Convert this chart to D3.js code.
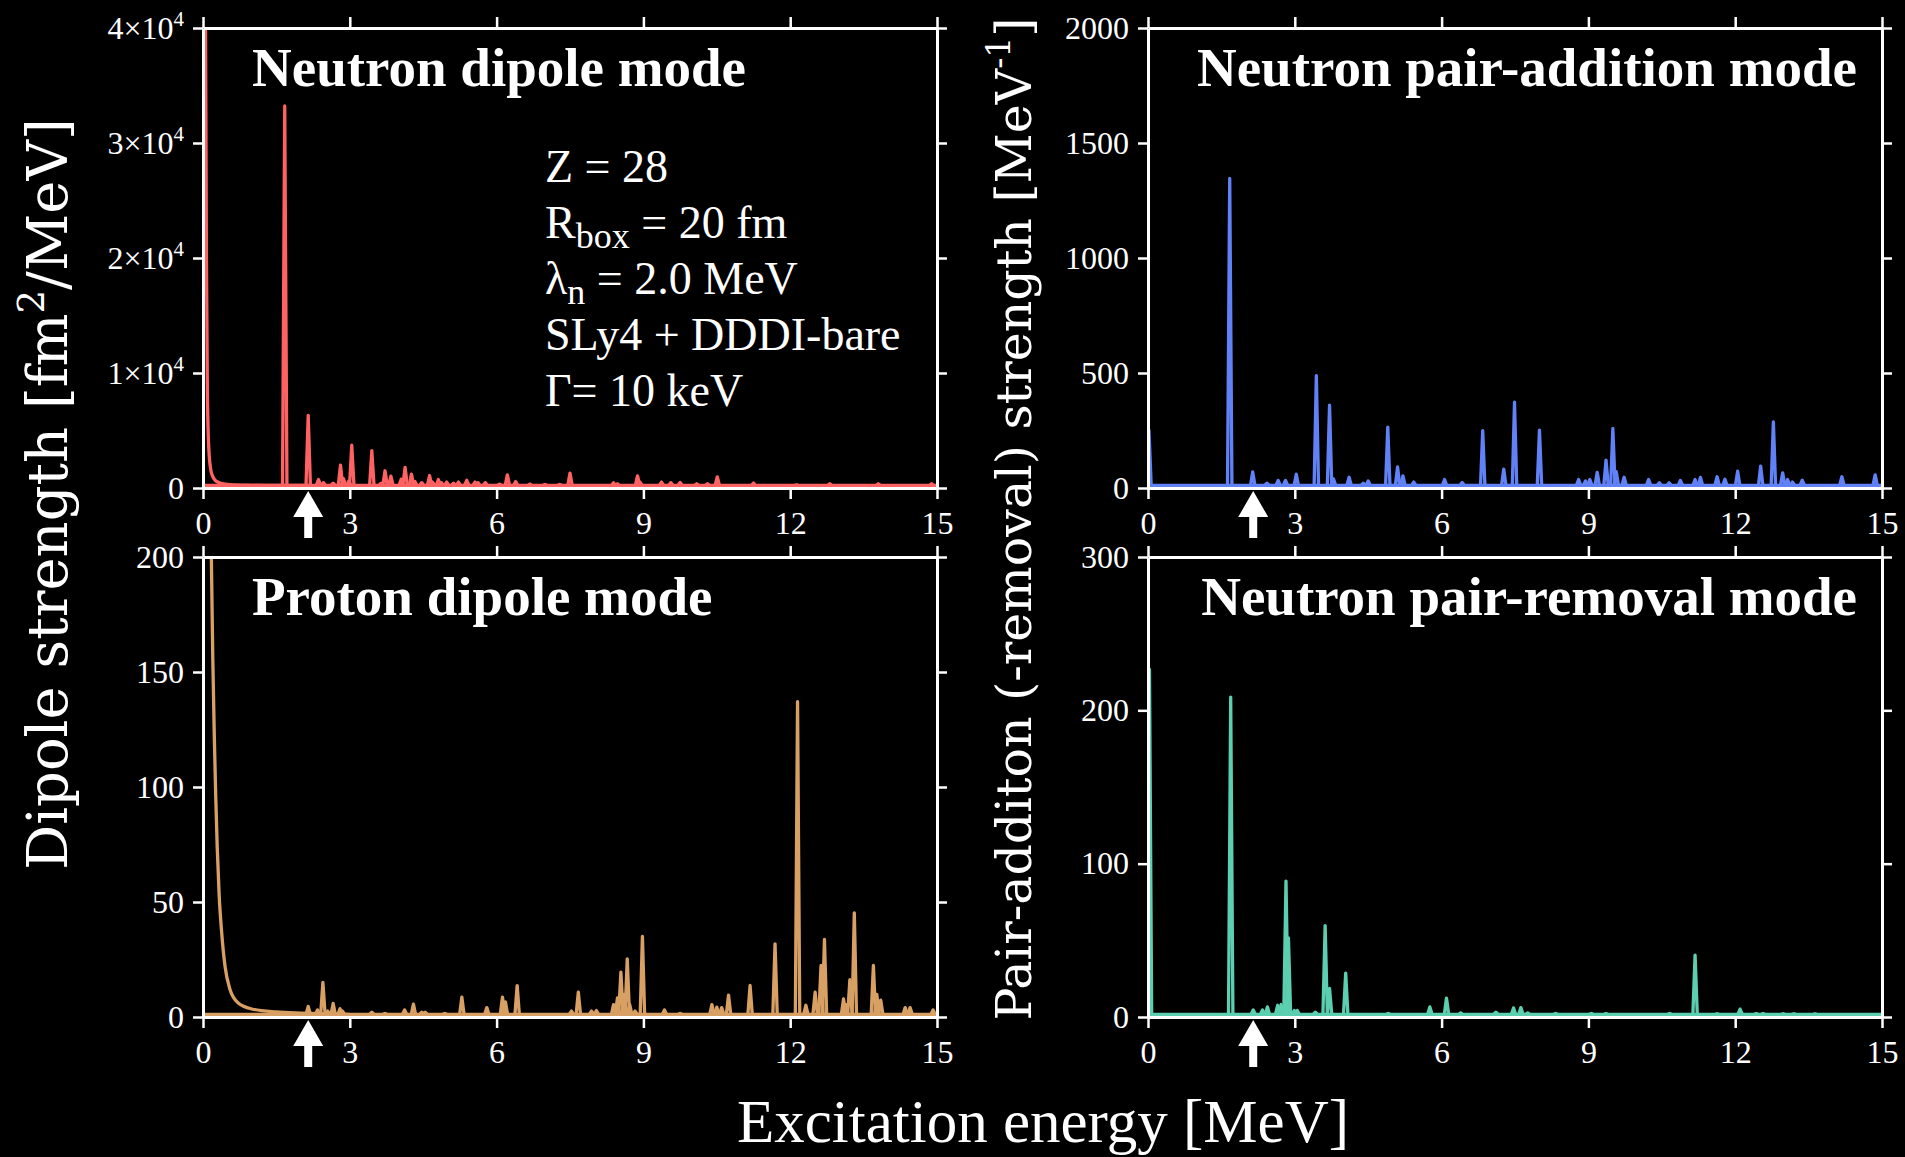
<!DOCTYPE html>
<html>
<head>
<meta charset="utf-8">
<script src="https://cdn.jsdelivr.net/npm/d3@7"></script>
<style>
  body { margin: 0; background: #000; }
  svg { display: block; }
</style>
</head>
<body>
<div id="wrapper"></div>
<script>
// peaks: [excitation energy (MeV), strength]
const neutronDipolePeaks = [
    [1.67, 33000], [2.15, 6100], [2.36, 520], [2.46, 250], [2.66, 200], [2.81, 1770], [2.87, 600],
    [2.98, 400], [3.04, 3500], [3.45, 3020], [3.64, 200], [3.72, 1280], [3.84, 810], [4.05, 550],
    [4.13, 1570], [4.26, 990], [4.33, 350], [4.47, 250], [4.63, 870], [4.69, 300], [4.81, 520],
    [4.87, 250], [4.98, 300], [5.12, 200], [5.22, 300], [5.39, 450], [5.56, 300], [5.62, 250],
    [5.77, 250], [6.06, 120], [6.22, 930], [6.39, 340], [6.68, 130], [6.99, 100], [7.29, 100],
    [7.50, 1080], [8.39, 240], [8.47, 150], [8.88, 840], [8.93, 300], [9.37, 300], [9.56, 250],
    [9.75, 270], [10.09, 150], [10.31, 150], [10.51, 750], [11.25, 220], [12.13, 60], [12.81, 150],
    [13.80, 150], [14.89, 150]
];
// low-energy tail of the spurious state
const neutronDipoleTail = [
    [0.05, 42000], [0.07, 20000], [0.09, 8000], [0.12, 3100], [0.16, 1350], [0.2, 780], [0.25, 450],
    [0.3, 300], [0.38, 180], [0.5, 95], [0.65, 55], [0.9, 25], [1.3, 12], [1.8, 5], [2.2, 0]
];

const protonDipolePeaks = [
    [2.15, 3.5], [2.34, 2], [2.45, 14], [2.55, 1.5], [2.66, 4.8], [2.80, 2.5], [2.85, 1.5], [3.45, 1],
    [3.72, 0.5], [4.12, 2], [4.30, 4.5], [4.47, 1], [4.54, 1], [4.94, 0.5], [5.29, 7.5], [5.80, 3],
    [6.12, 7.5], [6.18, 5.5], [6.42, 12.5], [7.53, 1.5], [7.67, 9.7], [7.94, 1.5], [8.04, 1.7],
    [8.39, 4.3], [8.47, 7.2], [8.54, 18.4], [8.61, 8.7], [8.67, 24.2], [8.72, 4.3], [8.83, 1.5],
    [8.98, 34], [9.43, 2], [9.75, 0.5], [10.40, 4.3], [10.5, 3.2], [10.6, 3], [10.74, 8.4],
    [11.18, 12.6], [11.69, 30.7], [12.15, 136], [12.32, 4], [12.51, 9.7], [12.63, 21.3], [12.70, 32.6],
    [13.09, 6.8], [13.14, 4.3], [13.22, 15.2], [13.31, 44.2], [13.70, 21.3], [13.77, 8.7], [13.85, 6.2],
    [14.35, 3], [14.45, 3], [14.92, 2]
];
const protonDipoleTail = [
    [0.15, 230], [0.17, 200], [0.2, 155], [0.23, 122], [0.26, 95], [0.29, 73], [0.33, 52], [0.38, 36],
    [0.45, 21], [0.55, 11], [0.72, 5], [1.0, 2.4], [1.5, 1.1], [2.0, 0.6], [2.5, 0.3], [3.0, 0]
];

const pairAdditionPeaks = [
    [0.02, 240], [1.67, 1335], [2.14, 59], [2.43, 10], [2.66, 22], [2.81, 22], [3.03, 49], [3.44, 478],
    [3.71, 349], [3.79, 29], [4.11, 36], [4.40, 10], [4.50, 20], [4.90, 254], [5.10, 81], [5.21, 42],
    [5.43, 15], [6.06, 26], [6.42, 13], [6.84, 238], [7.27, 71], [7.49, 362], [8.0, 241], [8.80, 26],
    [8.94, 20], [9.03, 26], [9.18, 57], [9.36, 110], [9.50, 248], [9.57, 60], [9.73, 36], [10.23, 26],
    [10.45, 12], [10.65, 12], [10.88, 22], [11.18, 26], [11.29, 35], [11.63, 38], [11.79, 27],
    [12.05, 62], [12.52, 84], [12.78, 277], [12.97, 55], [13.07, 26], [13.17, 15], [13.37, 23],
    [14.18, 38], [14.86, 46]
];

const pairRemovalPeaks = [
    [0.03, 225], [1.69, 207], [2.15, 3], [2.34, 3], [2.44, 5], [2.65, 6], [2.72, 6.5], [2.82, 87],
    [2.87, 50], [2.99, 2.6], [3.05, 2.6], [3.42, 1.5], [3.62, 58], [3.71, 17], [4.04, 27], [4.91, 0.7],
    [5.76, 5], [6.10, 10.6], [6.39, 1], [7.11, 1.5], [7.47, 4.3], [7.62, 4.5], [7.76, 1], [8.33, 0.7],
    [9.06, 0.7], [9.36, 0.6], [10.66, 0.7], [11.18, 38.7], [11.63, 0.5], [12.10, 3.5], [12.43, 0.6],
    [12.57, 0.6], [12.98, 0.5], [13.2, 0.5], [13.63, 0.4]
];

const xTicks = [0, 3, 6, 9, 12, 15];
const neutronDipoleTicks = [0, 10000, 20000, 30000, 40000];
const protonDipoleTicks = [0, 50, 100, 150, 200];
const pairAdditionTicks = [0, 500, 1000, 1500, 2000];
const pairRemovalTicks = [0, 100, 200, 300];
const arrowEnergy = 2.15;

const infoLines = [
    [["Z = 28", ""]],
    [["R", ""], ["box", "sub"], [" = 20 fm", ""]],
    [["λ", ""], ["n", "sub"], [" = 2.0 MeV", ""]],
    [["SLy4 + DDDI-bare", ""]],
    [["Γ= 10 keV", ""]]
];

const serif = "'Liberation Serif', 'Times New Roman', serif";
const labelSerif = "'DejaVu Serif', serif";

var dimension = {
    width: 1905,
    height: 1157,
    cols: [203, 1148],
    rows: [28, 557],
    plotW: 734,
    plotH: 460
};

const panels = [
    {title: "Neutron dipole mode", col: 0, row: 0, color: "#ff6262", peaks: neutronDipolePeaks,
     tail: neutronDipoleTail, ticks: neutronDipoleTicks, sci: true, titleRight: false},
    {title: "Proton dipole mode", col: 0, row: 1, color: "#d9a064", peaks: protonDipolePeaks,
     tail: protonDipoleTail, ticks: protonDipoleTicks, sci: false, titleRight: false},
    {title: "Neutron pair-addition mode", col: 1, row: 0, color: "#6181f7", peaks: pairAdditionPeaks,
     tail: null, ticks: pairAdditionTicks, sci: false, titleRight: true},
    {title: "Neutron pair-removal mode", col: 1, row: 1, color: "#5ccfb0", peaks: pairRemovalPeaks,
     tail: null, ticks: pairRemovalTicks, sci: false, titleRight: true}
];

const svg = d3.select("#wrapper").append("svg")
    .attr("width", dimension.width)
    .attr("height", dimension.height)
    .style("background", "#000");

svg.append("rect").attr("width", dimension.width).attr("height", dimension.height).attr("fill", "#000");

const peakHalfWidth = 0.045;

function styleAxis(g) {
    g.select(".domain").attr("stroke", "#fff").attr("stroke-width", 3);
    g.selectAll(".tick line").attr("stroke", "#fff").attr("stroke-width", 2.5);
    g.selectAll(".tick text").attr("fill", "#fff").style("font-family", serif).style("font-size", "32px");
}

panels.forEach((p, i) => {
    const x0 = dimension.cols[p.col];
    const y0 = dimension.rows[p.row];
    const x = d3.scaleLinear().domain([0, 15]).range([x0, x0 + dimension.plotW]);
    const y = d3.scaleLinear().domain([0, p.ticks[p.ticks.length - 1]])
        .range([y0 + dimension.plotH, y0]);

    svg.append("clipPath").attr("id", "clip" + i)
        .append("rect")
        .attr("x", x0).attr("y", y0)
        .attr("width", dimension.plotW).attr("height", dimension.plotH);

    const series = svg.append("g")
        .attr("clip-path", `url(#clip${i})`)
        .append("g")
        .attr("transform", "translate(0,-2.5)")
        .attr("fill", "none")
        .attr("stroke", p.color)
        .attr("stroke-width", 3.3)
        .attr("stroke-linejoin", "round");

    const line = d3.line().x(d => x(d[0])).y(d => y(d[1]));

    series.append("path").attr("d", line([[0, 0], [15, 0]]));
    if (p.tail) {
        series.append("path")
            .attr("d", d3.line().x(d => x(d[0])).y(d => y(d[1])).curve(d3.curveMonotoneX)(p.tail));
    }
    series.selectAll(".peak")
        .data(p.peaks)
        .join("path")
        .attr("class", "peak")
        .attr("d", d => line([[d[0] - peakHalfWidth, 0], [d[0], d[1]], [d[0] + peakHalfWidth, 0]]));

    // frame with outward ticks
    const bottom = svg.append("g")
        .attr("transform", `translate(0,${y0 + dimension.plotH})`)
        .call(d3.axisBottom(x).tickValues(xTicks).tickSize(11).tickSizeOuter(0).tickPadding(12));
    styleAxis(bottom);
    const top = svg.append("g")
        .attr("transform", `translate(0,${y0})`)
        .call(d3.axisTop(x).tickValues(xTicks).tickSize(11).tickSizeOuter(0).tickFormat(""));
    styleAxis(top);
    const left = svg.append("g")
        .attr("transform", `translate(${x0},0)`)
        .call(d3.axisLeft(y).tickValues(p.ticks).tickSize(10).tickSizeOuter(0).tickPadding(9)
            .tickFormat(d3.format("d")));
    styleAxis(left);
    const right = svg.append("g")
        .attr("transform", `translate(${x0 + dimension.plotW},0)`)
        .call(d3.axisRight(y).tickValues(p.ticks).tickSize(10).tickSizeOuter(0).tickFormat(""));
    styleAxis(right);

    if (p.sci) {
        left.selectAll(".tick text").each(function (d) {
            if (d === 0) return;
            const t = d3.select(this);
            t.text(null);
            t.append("tspan").text(d / 10000 + "×10");
            t.append("tspan").attr("dy", "-0.62em").style("font-size", "21px").text("4");
        });
    }

    // title
    svg.append("text")
        .attr("x", p.titleRight ? x0 + dimension.plotW - 25 : x0 + 49)
        .attr("y", y0 + 58)
        .attr("text-anchor", p.titleRight ? "end" : "start")
        .attr("fill", "#fff")
        .style("font-family", serif)
        .style("font-weight", "bold")
        .style("font-size", "55px")
        .text(p.title);

    // arrow below axis at the marked energy
    const xa = x(arrowEnergy);
    const yb = y0 + dimension.plotH;
    svg.append("path")
        .attr("fill", "#fff")
        .attr("d", d3.line()([
            [xa, yb + 3], [xa + 15, yb + 29], [xa + 4, yb + 29], [xa + 4, yb + 50],
            [xa - 4, yb + 50], [xa - 4, yb + 29], [xa - 15, yb + 29]
        ]) + "Z");
});

// parameter box in the first panel
const info = svg.append("g")
    .attr("fill", "#fff")
    .style("font-family", serif)
    .style("font-size", "46px");
infoLines.forEach((parts, k) => {
    const t = info.append("text").attr("x", 545).attr("y", 182 + k * 56);
    parts.forEach(([s, kind], j) => {
        const ts = t.append("tspan").text(s);
        if (kind === "sub") ts.attr("dy", 10).style("font-size", "36px");
        else if (j > 0 && parts[j - 1][1] === "sub") ts.attr("dy", -10);
    });
});

// axis labels
svg.append("text")
    .attr("x", 1043)
    .attr("y", 1142)
    .attr("text-anchor", "middle")
    .attr("fill", "#fff")
    .style("font-family", serif)
    .style("font-size", "61px")
    .text("Excitation energy [MeV]");

const yl = svg.append("text")
    .attr("transform", "translate(67,494) rotate(-90)")
    .attr("text-anchor", "middle")
    .attr("fill", "#fff")
    .style("font-family", labelSerif)
    .style("font-size", "56px");
yl.append("tspan").text("Dipole strength [fm");
yl.append("tspan").attr("dy", -23).style("font-size", "37px").text("2");
yl.append("tspan").attr("dy", 23).text("/MeV]");

const yr = svg.append("text")
    .attr("transform", "translate(1031,519) rotate(-90)")
    .attr("text-anchor", "middle")
    .attr("fill", "#fff")
    .style("font-family", labelSerif)
    .style("font-size", "49px");
yr.append("tspan").text("Pair-additon (-removal) strength [MeV");
yr.append("tspan").attr("dy", -21).style("font-size", "33px").text("-1");
yr.append("tspan").attr("dy", 21).text("]");
</script>
</body>
</html>
